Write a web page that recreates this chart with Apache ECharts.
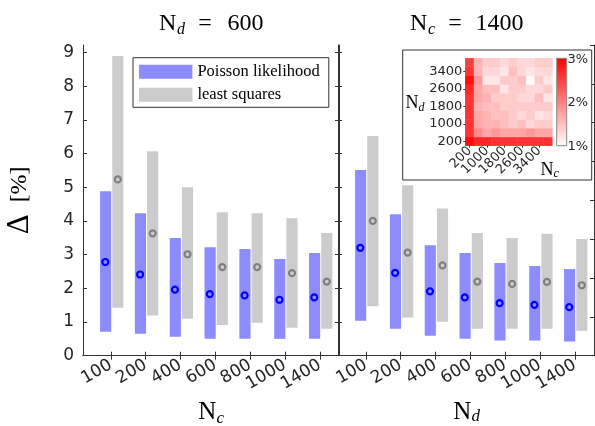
<!DOCTYPE html>
<html><head><meta charset="utf-8">
<script src="https://cdn.jsdelivr.net/npm/echarts@6/dist/echarts.min.js"></script>
<style>html,body{margin:0;padding:0;background:#fff}#c{width:595px;height:426px}</style>
</head><body><div id="c"></div><script>
// ---------- data ----------
const categories = ['100', '200', '400', '600', '800', '1000', '1400'];
const categoryPos = [1, 2, 3, 4, 5, 6, 7];
const yTicks = [0, 1, 2, 3, 4, 5, 6, 7, 8, 9];

// left panel: N_d = 600, x = N_c
const leftPoissonLow    = [0.71, 0.65, 0.56, 0.50, 0.50, 0.50, 0.50];
const leftPoissonHigh   = [4.88, 4.23, 3.49, 3.22, 3.17, 2.87, 3.05];
const leftPoissonMedian = [2.78, 2.41, 1.96, 1.83, 1.79, 1.66, 1.73];
const leftLsqLow        = [1.42, 1.19, 1.10, 0.91, 0.98, 0.83, 0.80];
const leftLsqHigh       = [8.89, 6.07, 5.00, 4.26, 4.23, 4.08, 3.64];
const leftLsqMedian     = [5.23, 3.63, 3.01, 2.63, 2.63, 2.45, 2.20];

// right panel: N_c = 1400, x = N_d
const rightPoissonLow    = [1.04, 0.80, 0.59, 0.50, 0.45, 0.45, 0.42];
const rightPoissonHigh   = [5.51, 4.20, 3.28, 3.05, 2.75, 2.66, 2.57];
const rightPoissonMedian = [3.20, 2.46, 1.91, 1.73, 1.56, 1.51, 1.44];
const rightLsqLow        = [1.47, 1.13, 1.01, 0.80, 0.80, 0.80, 0.74];
const rightLsqHigh       = [6.52, 5.06, 4.37, 3.64, 3.49, 3.62, 3.46];
const rightLsqMedian     = [4.00, 3.06, 2.68, 2.20, 2.13, 2.19, 2.09];

// inset heatmap (%), rows = N_d from 200 upward, columns = N_c from 200
const heatNc = ['200','600','1000','1400','1800','2200','2600','3000','3400','3800'];
const heatNd = ['200','600','1000','1400','1800','2200','2600','3000','3400','3800'];
const heatValues = [
  [2.9, 2.7, 2.7, 2.6, 2.6, 2.6, 2.6, 2.6, 2.6, 2.6],
  [2.6, 1.9, 1.7, 1.8, 1.7, 1.7, 1.7, 1.8, 1.7, 1.7],
  [2.6, 1.7, 1.6, 1.6, 1.5, 1.4, 1.5, 1.3, 1.4, 1.4],
  [2.6, 1.7, 1.6, 1.5, 1.5, 1.4, 1.3, 1.4, 1.2, 1.3],
  [2.6, 1.6, 1.5, 1.5, 1.4, 1.4, 1.4, 1.4, 1.4, 1.4],
  [2.6, 1.7, 1.6, 1.4, 1.4, 1.4, 1.3, 1.3, 1.5, 1.2],
  [2.7, 1.7, 1.5, 1.5, 1.2, 1.4, 1.4, 1.3, 1.3, 1.4],
  [2.9, 1.8, 1.2, 1.2, 1.4, 1.4, 1.5, 1.04, 1.4, 1.2],
  [2.6, 1.6, 1.3, 1.3, 1.2, 1.5, 1.3, 1.2, 1.3, 1.3],
  [2.5, 1.6, 1.4, 1.4, 1.3, 1.4, 1.3, 1.3, 1.4, 1.4]
];

// ---------- styling ----------
const BLUE_BAR = '#8c8cff', GRAY_BAR = '#cccccc';
const BLUE_MK = '#0000ff', GRAY_MK = '#808080';
const AX = '#333333', TXT = '#262626';
const SERIF = 'Liberation Serif', SANS = 'DejaVu Sans';

function rangeSeries(name, gridIdx, low, high, color, offL, offR) {
  return {
    type: 'custom', name: name, xAxisIndex: gridIdx * 2, yAxisIndex: gridIdx * 2,
    itemStyle: { color: color }, z: 2,
    encode: { x: 0, y: [1, 2] },
    data: categoryPos.map((p, i) => [p, low[i], high[i]]),
    renderItem: function (params, api) {
      const x = api.value(0);
      const a = api.coord([x + offL, api.value(2)]);
      const b = api.coord([x + offR, api.value(1)]);
      return { type: 'rect', shape: { x: a[0], y: a[1], width: b[0] - a[0], height: b[1] - a[1] },
               style: { fill: color } };
    }
  };
}
function markerSeries(name, gridIdx, med, color, off) {
  return {
    type: 'scatter', name: name, xAxisIndex: gridIdx * 2, yAxisIndex: gridIdx * 2, z: 3,
    symbol: 'circle', symbolSize: 6,
    itemStyle: { color: 'rgba(0,0,0,0)', borderColor: color, borderWidth: 2.2, opacity: 1 },
    data: categoryPos.map((p, i) => [p + off, med[i]])
  };
}

const axLine = { show: true, lineStyle: { color: AX, width: 1 } };
function xAxes(gridIdx) {
  const base = { gridIndex: gridIdx, type: 'value', min: 0.2, max: 7.55, splitLine: { show: false },
    axisLine: axLine, axisTick: { show: true, inside: true, length: 4, customValues: categoryPos, lineStyle: { color: AX } } };
  return [
    Object.assign({}, base, { position: 'bottom',
      axisLabel: { show: true, customValues: categoryPos, rotate: 30, margin: 8, fontSize: 17, fontFamily: SANS, color: TXT,
        formatter: v => categories[Math.round(v) - 1] } }),
    Object.assign({}, base, { position: 'top', axisLabel: { show: false } })
  ];
}
function yAxisMain(gridIdx, pos, labels) {
  const ax = { gridIndex: gridIdx, type: 'value', position: pos, min: 0, max: 9.22, splitLine: { show: false },
    axisLine: axLine,
    axisTick: { show: true, inside: true, length: 4, customValues: yTicks, lineStyle: { color: AX } },
    axisLabel: labels ? { show: true, customValues: yTicks, margin: 9, fontSize: 17, fontFamily: SANS, color: TXT } : { show: false } };
  if (labels) {
    Object.assign(ax, {
      name: '{d|Δ}{p|  [%]}', nameLocation: 'middle', nameRotate: 90, nameGap: 48,
      nameTextStyle: { color: '#000', fontFamily: SERIF,
        rich: { d: { fontSize: 31, fontFamily: SERIF, color: '#000' }, p: { fontSize: 24, fontFamily: SERIF, color: '#000' } } }
    });
  }
  return ax;
}

const heatData = [];
heatValues.forEach((row, yi) => row.forEach((v, xi) => heatData.push([xi, yi, v])));
const everyOther = (i) => i % 2 === 0;

function txt(t, x, y, size, opts) {
  return Object.assign({ type: 'text', x: x, y: y, z: 10,
    style: Object.assign({ text: t, fontSize: size, fontFamily: SERIF, fill: '#000', align: 'left', verticalAlign: 'middle' }, opts && opts.style || {}) },
    opts && opts.el || {});
}
const it = { style: { fontStyle: 'italic' } };

const heatAxisLabel = { interval: 0, margin: 3, fontSize: 13, fontFamily: SANS, color: TXT,
  showMinLabel: true, showMaxLabel: true, hideOverlap: false,
  formatter: (v, i) => (everyOther(i) ? v : '') };

const option = {
  animation: false,
  backgroundColor: '#fff',
  grid: [
    { left: 83, top: 45, width: 256, height: 310.7, outerBoundsMode: 'none' },
    { left: 338, top: 45, width: 256, height: 310.7, outerBoundsMode: 'none' },
    { left: 465.3, top: 58.3, width: 87, height: 87.4, outerBoundsMode: 'none', z: 8 }
  ],
  xAxis: [].concat(xAxes(0), xAxes(1), [{
    gridIndex: 2, type: 'category', data: heatNc, position: 'bottom', z: 8,
    axisLine: { show: false }, splitLine: { show: false },
    axisTick: { show: true, interval: everyOther, alignWithLabel: true, length: 2, lineStyle: { color: AX } },
    axisLabel: Object.assign({}, heatAxisLabel, { rotate: 45 })
  }]),
  yAxis: [
    yAxisMain(0, 'left', true), yAxisMain(0, 'right', false),
    yAxisMain(1, 'left', false),
    { gridIndex: 1, type: 'value', position: 'right', min: 0, max: 8, interval: 1, splitLine: { show: false },
      axisLine: axLine, axisTick: { show: true, inside: true, length: 4, lineStyle: { color: AX } }, axisLabel: { show: false } },
    { gridIndex: 2, type: 'category', data: heatNd, position: 'left', z: 8,
      axisLine: { show: false }, splitLine: { show: false },
      axisTick: { show: true, interval: everyOther, alignWithLabel: true, length: 2, lineStyle: { color: AX } },
      axisLabel: Object.assign({}, heatAxisLabel) }
  ],
  visualMap: { show: false, type: 'continuous', min: 1, max: 3, dimension: 2, seriesIndex: 8,
    inRange: { color: ['#ffffff', '#ff0000'] } },
  legend: {
    left: 133, top: 57.7, orient: 'vertical', padding: [5.6, 9, 4, 6], itemGap: 6,
    itemWidth: 53.4, itemHeight: 14, borderColor: AX, borderWidth: 1, backgroundColor: '#fff',
    textStyle: { fontFamily: SERIF, fontSize: 16.5, color: '#000', lineHeight: 14 },
    selectedMode: false,
    data: [{ name: 'Poisson likelihood', icon: 'rect' }, { name: 'least squares', icon: 'rect' }]
  },
  series: [
    rangeSeries('Poisson likelihood', 0, leftPoissonLow, leftPoissonHigh, BLUE_BAR, -0.31, 0.01),
    rangeSeries('least squares', 0, leftLsqLow, leftLsqHigh, GRAY_BAR, 0.04, 0.36),
    markerSeries('pl median L', 0, leftPoissonMedian, BLUE_MK, -0.16),
    markerSeries('ls median L', 0, leftLsqMedian, GRAY_MK, 0.2),
    rangeSeries('Poisson likelihood', 1, rightPoissonLow, rightPoissonHigh, BLUE_BAR, -0.31, 0.01),
    rangeSeries('least squares', 1, rightLsqLow, rightLsqHigh, GRAY_BAR, 0.04, 0.36),
    markerSeries('pl median R', 1, rightPoissonMedian, BLUE_MK, -0.16),
    markerSeries('ls median R', 1, rightLsqMedian, GRAY_MK, 0.2),
    { type: 'heatmap', name: 'inset', xAxisIndex: 4, yAxisIndex: 4, data: heatData, z: 5,
      itemStyle: { borderWidth: 0 }, emphasis: { disabled: true } }
  ],
  graphic: [
    // inset frame
    { type: 'rect', z: 1, shape: { x: 402.7, y: 50, width: 189, height: 130 },
      style: { fill: '#fff', stroke: AX, lineWidth: 1 } },
    // colorbar
    { type: 'rect', z: 4, shape: { x: 556.7, y: 58.3, width: 10, height: 87.4 },
      style: { fill: new echarts.graphic.LinearGradient(0, 0, 0, 1, [{ offset: 0, color: '#ff0000' }, { offset: 1, color: '#ffffff' }]),
               stroke: '#888', lineWidth: 1 } },
    txt('3%', 567.5, 60, 13, { style: { fontFamily: SANS, fill: TXT } }),
    txt('2%', 567.5, 103, 13, { style: { fontFamily: SANS, fill: TXT } }),
    txt('1%', 567.5, 147, 13, { style: { fontFamily: SANS, fill: TXT } }),
    // inset axis names
    txt('N', 405.5, 103, 18), txt('d', 418.5, 108, 12, it),
    txt('N', 540.5, 170, 18), txt('c', 553.5, 174, 12, it),
    // titles
    txt('N', 159, 23.5, 24), txt('d', 177, 30, 16, it),
    txt('=', 205, 23.5, 24, { style: { align: 'center' } }), txt('600', 227.5, 23.5, 24),
    txt('N', 410, 23.5, 24), txt('c', 428, 30, 16, it),
    txt('=', 455, 23.5, 24, { style: { align: 'center' } }), txt('1400', 475.5, 23.5, 24),
    // x axis names
    txt('N', 198.3, 412, 25), txt('c', 216.5, 418.5, 17, it),
    txt('N', 453.3, 412, 25), txt('d', 471.5, 417, 17, it)
  ]
};
const chart = echarts.init(document.getElementById('c'), null, { renderer: 'canvas' });
chart.setOption(option);
</script></body></html>
